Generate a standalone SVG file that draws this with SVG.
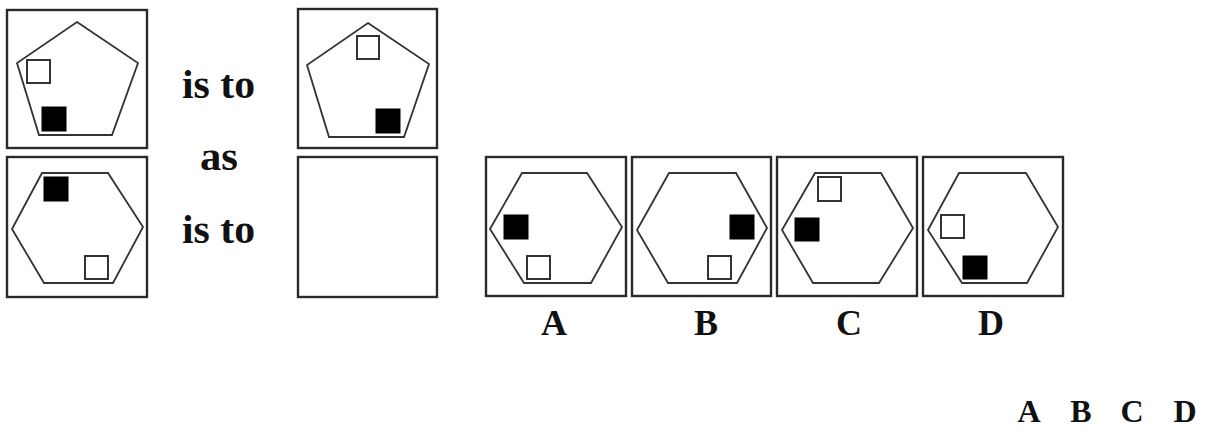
<svg xmlns="http://www.w3.org/2000/svg" width="1206" height="429" viewBox="0 0 1206 429">
<style>
.box{fill:#fff;stroke:#2a2a2a;stroke-width:2.4}
.shape{fill:none;stroke:#333;stroke-width:1.8;stroke-linejoin:miter}
.w{fill:#fff;stroke:#333;stroke-width:2}
.b{fill:#000;stroke:#000;stroke-width:1}
.t{font-family:"Liberation Serif","Times New Roman",serif;font-weight:bold;fill:#111}
</style>
<rect width="1206" height="429" fill="#fff"/>
<g id="fig1">
<rect class="box" x="7" y="10" width="140" height="138"/>
<polygon class="shape" points="77,22 138,63 112,135 39,135 17,63"/>
<rect class="w" x="27" y="60" width="23" height="23"/>
<rect class="b" x="42" y="107" width="24" height="24"/>
</g>
<g id="fig2">
<rect class="box" x="298" y="9" width="139" height="139"/>
<polygon class="shape" points="368,23 429,64 404,137 329,137 307,65"/>
<rect class="w" x="357" y="36" width="22" height="23"/>
<rect class="b" x="376" y="109" width="24" height="24"/>
</g>
<g id="fig3">
<rect class="box" x="7" y="157" width="140" height="140"/>
<polygon class="shape" points="42,173 108,173 143,227 113,283 44,283 12,229"/>
<rect class="b" x="44" y="177" width="24" height="24"/>
<rect class="w" x="85" y="256" width="23" height="23"/>
</g>
<g id="fig4">
<rect class="box" x="298" y="157" width="139" height="140"/>
</g>
<g id="optA">
<rect class="box" x="486" y="157" width="140" height="139"/>
<polygon class="shape" points="522,173 587,173 622,227 591,283 524,283 490,229"/>
<rect class="b" x="504" y="215" width="24" height="24"/>
<rect class="w" x="527" y="256" width="23" height="23"/>
</g>
<g id="optB">
<rect class="box" x="632" y="157" width="139" height="139"/>
<polygon class="shape" points="669,173 736,173 767,228 737,283 668,283 637,230"/>
<rect class="b" x="730" y="215" width="24" height="24"/>
<rect class="w" x="708" y="256" width="23" height="23"/>
</g>
<g id="optC">
<rect class="box" x="777" y="157" width="140" height="139"/>
<polygon class="shape" points="815,173 881,173 913,228 879,283 813,283 782,230"/>
<rect class="w" x="818" y="177" width="23" height="24"/>
<rect class="b" x="795" y="218" width="24" height="23"/>
</g>
<g id="optD">
<rect class="box" x="923" y="157" width="140" height="139"/>
<polygon class="shape" points="959,173 1026,173 1058,227 1027,283 962,283 928,230"/>
<rect class="w" x="941" y="215" width="23" height="23"/>
<rect class="b" x="963" y="256" width="24" height="23"/>
</g>
<g id="connectors"></g>
<g id="labels">
<text class="t" x="182" y="98" font-size="41" textLength="73" lengthAdjust="spacingAndGlyphs">is to</text>
<text class="t" x="200" y="170" font-size="41" textLength="38" lengthAdjust="spacingAndGlyphs">as</text>
<text class="t" x="182" y="243" font-size="41" textLength="73" lengthAdjust="spacingAndGlyphs">is to</text>
<text class="t" x="554" y="335" font-size="36" text-anchor="middle">A</text>
<text class="t" x="706" y="335" font-size="36" text-anchor="middle">B</text>
<text class="t" x="849" y="335" font-size="36" text-anchor="middle">C</text>
<text class="t" x="991" y="335" font-size="36" text-anchor="middle">D</text>
<text class="t" x="1029" y="422" font-size="32" text-anchor="middle">A</text>
<text class="t" x="1081" y="422" font-size="32" text-anchor="middle">B</text>
<text class="t" x="1132" y="422" font-size="32" text-anchor="middle">C</text>
<text class="t" x="1185" y="422" font-size="32" text-anchor="middle">D</text>
</g>
</svg>
